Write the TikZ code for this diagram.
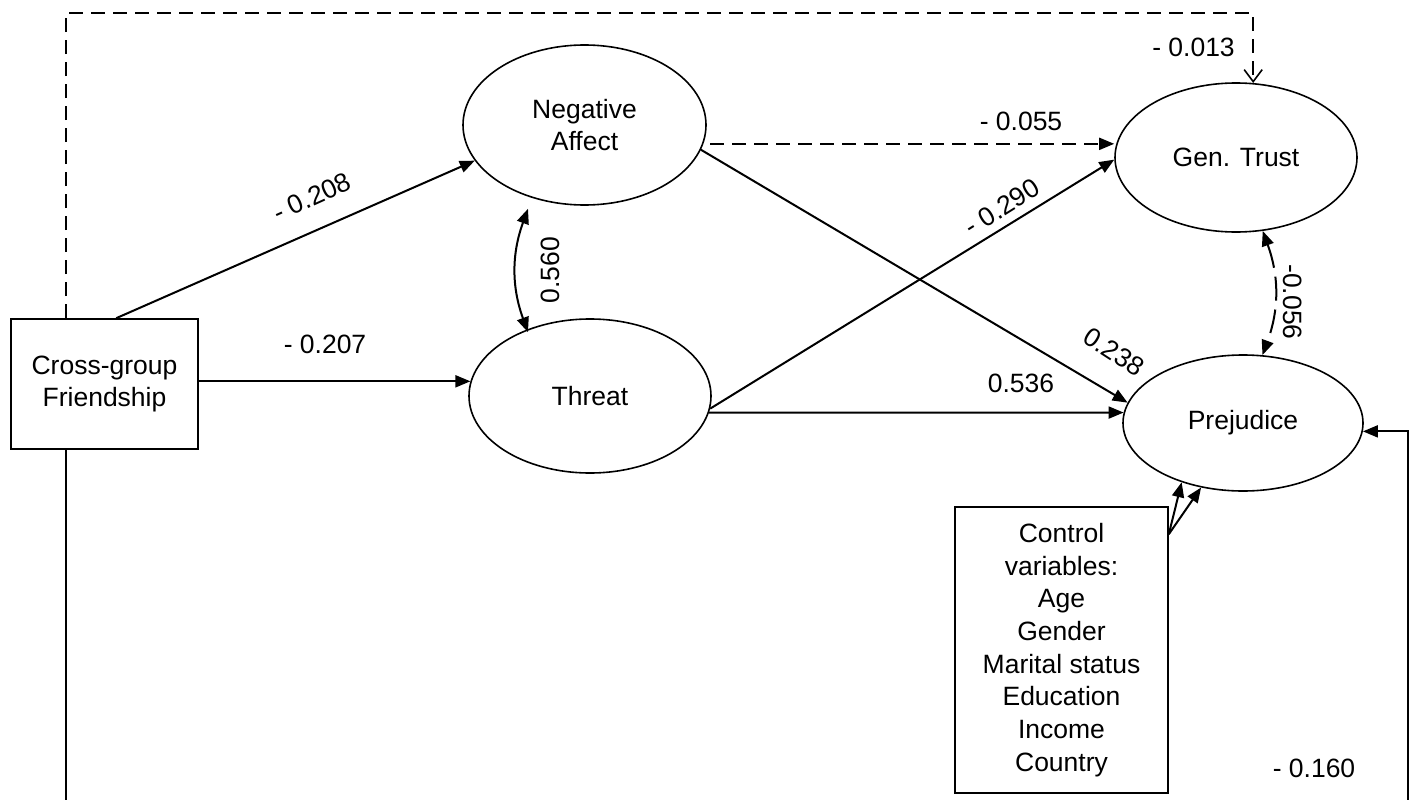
\documentclass[tikz,border=0pt]{standalone}
\usepackage{fontspec}
\setmainfont{Liberation Sans}
\usetikzlibrary{shapes.geometric,arrows.meta,calc}
\begin{document}
\begin{tikzpicture}[x=1pt,y=-1pt,
  font=\fontsize{26.5}{32.7}\selectfont,
  lat/.style={draw,ellipse,line width=1.6pt,inner sep=0pt,align=center},
  obs/.style={draw,rectangle,line width=1.6pt,inner sep=0pt,align=center},
  pth/.style={line width=2pt,-{Triangle[length=15pt,width=12pt]}},
  cov/.style={line width=2pt,{Triangle[length=15pt,width=12pt]}-{Triangle[length=15pt,width=12pt]}},
  dsh/.style={dash pattern=on 14pt off 8pt},
  lbl/.style={inner sep=0pt}]
\useasboundingbox (0,0) rectangle (1411,800);
% nodes
\node[obs,minimum width=187pt,minimum height=130pt] (fr) at (104.5,384) {Cross-group\\Friendship};
\node[lat,minimum width=243pt,minimum height=160pt] (na) at (584.5,125) {Negative\\Affect};
\node[lat,minimum width=242pt,minimum height=154pt] (th) at (590,396) {Threat};
\node[lat,minimum width=242pt,minimum height=149pt] (gt) at (1236,157.5) {Gen. Trust};
\node[lat,minimum width=240pt,minimum height=136pt] (pj) at (1243,423) {Prejudice};
\node[obs,minimum width=213pt,minimum height=286pt] (cv) at (1061.5,650) {Control\\variables:\\Age\\Gender\\Marital status\\Education\\Income\\Country};
% helper coordinates
\coordinate (frtop) at ($(fr.north west)+(56,0)$);
\coordinate (frbot) at ($(fr.south west)+(56,0)$);
\coordinate (frna) at ($(fr.north west)+(106,0)$);
\coordinate (br) at (1408,800);
\coordinate (cs) at ($(cv.north east)+(0,28)$);
\coordinate (nab) at ($(na.south)+(-56.5,3)$);
\coordinate (tht) at ($(th.north)+(-62,14)$);
% connectors
\draw[pth] (frna) -- (na.198);
\draw[pth] (fr.east |- th.173) -- (th.173);
\draw[cov] (nab) to[bend right=20] (tht);
\draw[pth,dsh,shorten <=7pt] (na.-9) -- (na.-9 -| gt.west);
\draw[pth] (na.-12) -- (pj.170);
\draw[pth] (th.-6) -- (gt.181);
\draw[pth] (th.-8) -- (pj.175);
\draw[cov,dash pattern=on 24pt off 9pt] (gt.290) to[bend left=20] (pj.74);
\draw[line width=1.6pt,dsh,-{Straight Barb[length=12pt,width=18pt]}] (frtop) -- ++(0,-305) -| (gt.77);
\draw[line width=1.8pt] (frbot) -- ++(0,351);
\draw[pth] (br) |- (pj.-4);
\draw[pth] (cs) -- (pj.224);
\draw[pth] (cs) -- (pj.237);
% labels
\node[lbl,rotate=24.4] (l1) at (312,197) {- 0.208};
\node[lbl,anchor=base] (l2) at (325,353) {- 0.207};
\node[lbl,rotate=90] (l3) at (550,270) {0.560};
\node[lbl,anchor=base] (l4) at (1021,130) {- 0.055};
\node[lbl,rotate=32] (l5) at (1002,207) {- 0.290};
\node[lbl,rotate=-33] (l6) at (1114,352) {0.238};
\node[lbl,anchor=base] (l7) at (1021,392) {0.536};
\node[lbl,rotate=-90] (l8) at (1293,302) {-0.056};
\node[lbl,anchor=base] (l9) at (1193.5,57) {- 0.013};
\node[lbl,anchor=base] (l10) at (1314,777) {- 0.160};
\end{tikzpicture}
\end{document}
